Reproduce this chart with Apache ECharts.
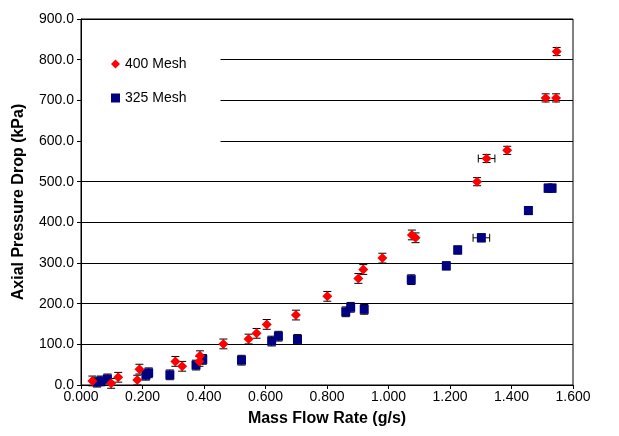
<!DOCTYPE html>
<html>
<head>
<meta charset="utf-8">
<script src="https://cdn.jsdelivr.net/npm/echarts@6/dist/echarts.min.js"></script>
<style>
html,body{margin:0;padding:0;background:#fff;}
#chart{width:619px;height:436px;}
</style>
</head>
<body>
<div id="chart"></div>
<script>
// ---- data ----
const mesh400X = [0.037, 0.098, 0.121, 0.183, 0.190, 0.307, 0.329, 0.385, 0.387, 0.463, 0.545, 0.571, 0.604, 0.699, 0.801, 0.902, 0.918, 0.980, 1.076, 1.088, 1.288, 1.319, 1.386, 1.511, 1.545, 1.547];
const mesh400Y = [10, 4, 19, 12, 39, 58, 46, 58, 72, 101, 113, 127, 149, 172, 218, 262, 284, 312, 369, 362, 500, 557, 577, 706, 706, 820];
const mesh400ErrY = [12, 12, 12, 12, 12, 12, 12, 12, 12, 12, 12, 12, 12, 12, 12, 12, 12, 12, 12, 12, 10, 10, 10, 10, 10, 10];
const mesh400ErrX = [0, 0, 0, 0, 0, 0, 0, 0, 0, 0, 0, 0, 0, 0, 0, 0, 0, 0, 0, 0, 0, 0.027, 0, 0, 0, 0];

const mesh325X = [0.052, 0.065, 0.086, 0.211, 0.220, 0.289, 0.374, 0.396, 0.522, 0.620, 0.642, 0.704, 0.861, 0.877, 0.921, 1.074, 1.188, 1.225, 1.302, 1.455, 1.519, 1.532];
const mesh325Y = [7, 10, 15, 24, 30, 25, 49, 63, 61, 108, 120, 112, 180, 191, 186, 259, 293, 332, 362, 429, 484, 484];
const mesh325ErrY = [12, 12, 12, 12, 12, 12, 12, 12, 12, 12, 12, 12, 12, 12, 12, 12, 10, 10, 10, 10, 10, 10];
const mesh325ErrX = [0, 0, 0, 0, 0, 0, 0, 0, 0, 0, 0, 0, 0, 0, 0, 0, 0, 0, 0.027, 0, 0, 0];

const seriesNames = ['400 Mesh', '325 Mesh'];
const xTicks = {min: 0, max: 1.6, interval: 0.2};
const yTicks = {min: 0, max: 900, interval: 100};

const FONT = '"Liberation Sans", Arial, Helvetica, sans-serif';

function zip(xs, ys) { return xs.map((x, i) => [x, ys[i]]); }
function zipErr(xs, ys, ey, ex) { return xs.map((x, i) => [x, ys[i], ey[i], ex[i]]); }

function errRender(params, api) {
  const x = api.value(0), y = api.value(1), ey = api.value(2), ex = api.value(3);
  const top = api.coord([x, y + ey]);
  const bot = api.coord([x, y - ey]);
  const cap = 4;
  const st = {stroke: '#000', lineWidth: 1};
  const children = [
    {type: 'line', shape: {x1: top[0], y1: top[1], x2: bot[0], y2: bot[1]}, style: st},
    {type: 'line', shape: {x1: top[0] - cap, y1: top[1], x2: top[0] + cap, y2: top[1]}, style: st},
    {type: 'line', shape: {x1: bot[0] - cap, y1: bot[1], x2: bot[0] + cap, y2: bot[1]}, style: st}
  ];
  if (ex > 0) {
    const l = api.coord([x - ex, y]);
    const r = api.coord([x + ex, y]);
    children.push({type: 'line', shape: {x1: l[0], y1: l[1], x2: r[0], y2: r[1]}, style: st});
    children.push({type: 'line', shape: {x1: l[0], y1: l[1] - cap, x2: l[0], y2: l[1] + cap}, style: st});
    children.push({type: 'line', shape: {x1: r[0], y1: r[1] - cap, x2: r[0], y2: r[1] + cap}, style: st});
  }
  return {type: 'group', children: children};
}

const chart = echarts.init(document.getElementById('chart'), null, {renderer: 'canvas'});
chart.setOption({
  animation: false,
  backgroundColor: '#fff',
  textStyle: {fontFamily: FONT},
  grid: {left: 81, right: 46, top: 19, bottom: 51, show: true, borderColor: '#000', borderWidth: 1, backgroundColor: 'transparent'},
  legend: {
    left: 82, top: 45,
    orient: 'vertical',
    backgroundColor: '#fff',
    padding: [12, 34, 42, 29],
    itemWidth: 9, itemHeight: 9, itemGap: 20,
    textStyle: {fontFamily: FONT, fontSize: 14, color: '#000'},
    data: [
      {name: seriesNames[0], icon: 'diamond'},
      {name: seriesNames[1], icon: 'rect'}
    ]
  },
  xAxis: {
    type: 'value', min: xTicks.min, max: xTicks.max, interval: xTicks.interval,
    name: 'Mass Flow Rate (g/s)', nameLocation: 'middle', nameGap: 26,
    nameTextStyle: {fontFamily: FONT, fontSize: 16, fontWeight: 'bold', color: '#000'},
    axisLine: {show: true, lineStyle: {color: '#000', width: 1}},
    axisTick: {show: true, length: 4, lineStyle: {color: '#000'}},
    axisLabel: {fontFamily: FONT, fontSize: 14, color: '#000', margin: 5, formatter: v => v.toFixed(3)},
    splitLine: {show: false}
  },
  yAxis: {
    type: 'value', min: yTicks.min, max: yTicks.max, interval: yTicks.interval,
    name: 'Axial Pressure Drop (kPa)', nameLocation: 'middle', nameGap: 54,
    nameTextStyle: {fontFamily: FONT, fontSize: 16, fontWeight: 'bold', color: '#000'},
    axisLine: {show: true, lineStyle: {color: '#000', width: 1}},
    axisTick: {show: true, length: 4, lineStyle: {color: '#000'}},
    axisLabel: {fontFamily: FONT, fontSize: 14, color: '#000', margin: 7, formatter: v => v.toFixed(1)},
    splitLine: {show: true, lineStyle: {color: '#000', width: 1}}
  },
  series: [
    {type: 'custom', name: seriesNames[0] + ' err', renderItem: errRender, data: zipErr(mesh400X, mesh400Y, mesh400ErrY, mesh400ErrX), z: 1, silent: true},
    {type: 'custom', name: seriesNames[1] + ' err', renderItem: errRender, data: zipErr(mesh325X, mesh325Y, mesh325ErrY, mesh325ErrX), z: 1, silent: true},
    {type: 'scatter', name: seriesNames[1], symbol: 'rect', symbolSize: 9, itemStyle: {color: '#000080', opacity: 1}, data: zip(mesh325X, mesh325Y), z: 2},
    {type: 'scatter', name: seriesNames[0], symbol: 'diamond', symbolSize: 10, itemStyle: {color: '#ff0000', opacity: 1}, data: zip(mesh400X, mesh400Y), z: 3}
  ]
});
</script>
</body>
</html>
